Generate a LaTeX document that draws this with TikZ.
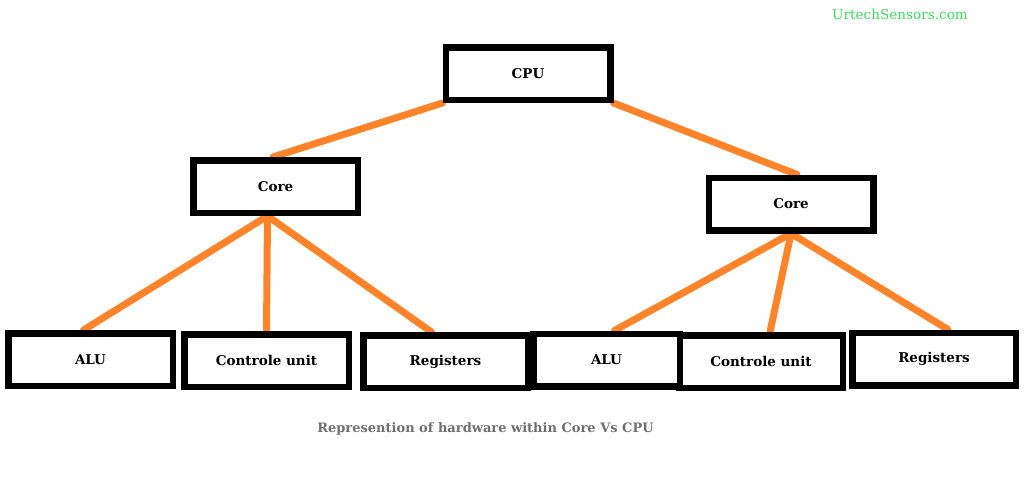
\documentclass[tikz,border=0pt]{standalone}
\usepackage{fontspec}
\setmainfont{DejaVu Serif}
\definecolor{conn}{HTML}{FF8329}
\definecolor{capgray}{HTML}{6E6E6E}
\definecolor{webgreen}{HTML}{3DD65E}
\pgfdeclarelayer{background}
\pgfsetlayers{background,main}
\tikzset{
  box/.style={draw=black, fill=white, line width=6.5pt, minimum width=164.5pt,
    minimum height=52.5pt, inner sep=0pt, font=\fontsize{13.5}{15}\selectfont\bfseries},
  conline/.style={draw=conn, line width=7pt, line cap=round}
}
\begin{document}
\begin{tikzpicture}[x=1pt,y=-1pt]
\useasboundingbox (0,0) rectangle (1024,477);
\node[box] (cpu) at (528,73.5) {CPU};
\node[box] (corel) at (275.5,186.5) {Core};
\node[box] (corer) at (791,204) {Core};
\node[box] (alul) at (90.5,359.5) {ALU};
\node[box] (ctrll) at (266.5,360.5) {Controle unit};
\node[box] (regl) at (445.5,361.5) {Registers};
\node[box, minimum width=163.5pt] (ctrlr) at (761,361.5) {Controle unit};
\node[box, minimum width=146.5pt] (alur) at (606.5,360) {ALU};
\node[box, minimum width=163.5pt] (regr) at (934,359) {Registers};
\begin{pgfonlayer}{background}
\draw[conline] (cpu.south west) -- ([xshift=-2.5pt]corel.north);
\draw[conline] (cpu.south east) -- ([xshift=6pt]corer.north);
\draw[conline] ([xshift=-8pt]corel.south) -- ([xshift=-7pt]alul.north);
\draw[conline] ([xshift=-8pt]corel.south) -- (ctrll.north);
\draw[conline] ([xshift=-8pt]corel.south) -- ([xshift=-14pt]regl.north);
\draw[conline] (corer.south) -- ([xshift=8pt]alur.north);
\draw[conline] (corer.south) -- ([xshift=9pt]ctrlr.north);
\draw[conline] (corer.south) -- ([xshift=14pt]regr.north);
\end{pgfonlayer}
\node[text=capgray, font=\fontsize{13}{15}\selectfont\bfseries] (caption) at (485.5,429) {Represention of hardware within Core Vs CPU};
\node[text=webgreen, font=\fontsize{13.6}{15}\selectfont] (web) at (900,14) {UrtechSensors.com};
\end{tikzpicture}
\end{document}
